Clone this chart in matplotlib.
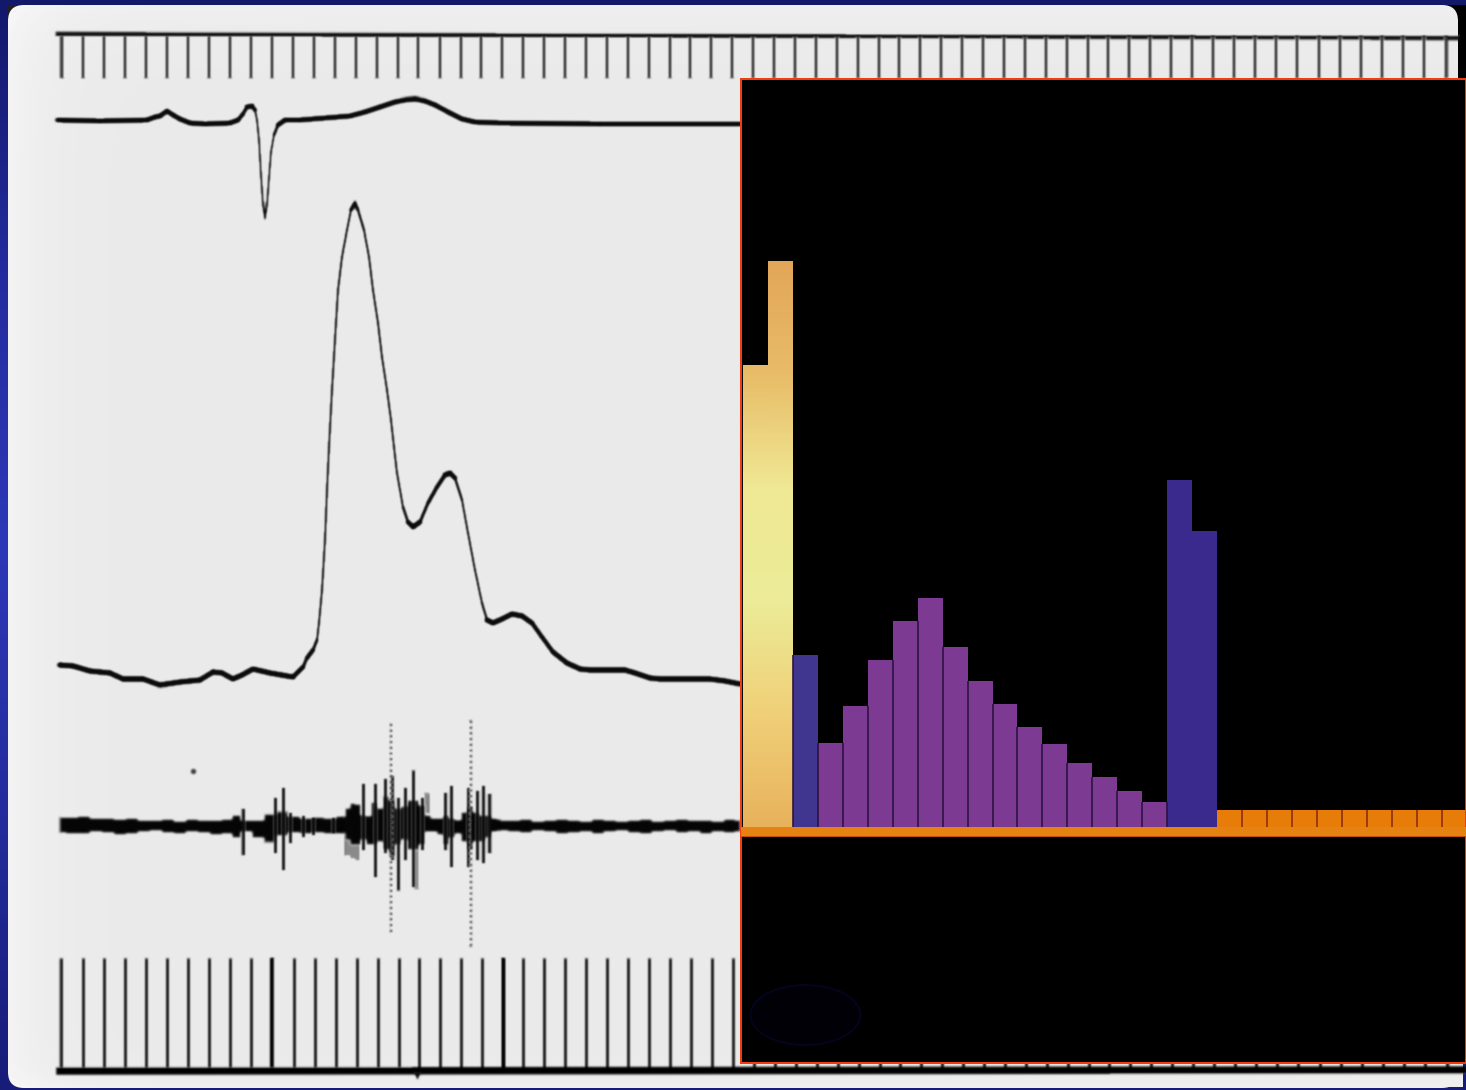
import numpy as np
import matplotlib
matplotlib.use("Agg")
import matplotlib.pyplot as plt
from matplotlib.collections import LineCollection
from matplotlib.colors import LinearSegmentedColormap
from matplotlib.patches import FancyBboxPatch, Rectangle, Ellipse

W, H = 1466, 1090
PX = 0.72  # one pixel in points at dpi 100

# --- traces (x, y in picture pixels) ---
top_ticks = [62,83,104,125,146,167,188,209,230,251,272,293,314,335,356,377,398,418,440,461,481,
             502,523,544,565,586,607,628,649,670,690,711,732,753,774,795,816,837,858,879,899,920,
             941,962,983,1004,1025,1046,1067,1088,1108,1129,1150,1171,1192,1213,1234,1255,1276,
             1297,1319,1340,1361,1382,1403,1424,1446]
bottom_ticks = [61,83,104,125,146,167,188,209,230,251,272,294,315,336,357,378,399,419,440,461,482,
                503,523,544,565,586,607,628,649,670,691,712,733,754,775,796,817,838,859,880,900,
                921,942,963,984,1005,1026,1047,1068,1089,1109,1130,1151,1172,1193,1214,1235,1256,
                1277,1298,1320,1341,1362,1383,1404,1425,1447]
bold_bottom_ticks = [272, 503]

ecg_x = [58,100,147,155,160,167,173,180,190,205,230,238,243,247,252,255,257,259,261,263,265,267,269,
         271,274,278,285,300,350,365,380,395,405,415,425,435,450,462,475,500,600,740]
ecg_y = [120,121,120,117,116,111,115,119,123,124,123,120,114,107,106,110,120,140,175,205,218,205,178,
         152,135,125,120,120,116,112,107,102,100,99,101,105,113,119,122,123,124,124]

bp_x = [60,73,90,110,123,143,160,180,200,213,222,233,242,253,270,293,298,303,307,313,317,319,322,325,327,
        329,332,336,338,342,347,351,355,358,364,369,373,378,382,387,391,394,397,403,408,413,420,428,437,
        445,450,455,462,468,475,482,487,493,502,512,522,532,542,553,567,580,590,605,625,635,650,660,680,710,725,740]
bp_y = [665,666,671,673,679,679,685,682,680,672,673,679,675,669,673,677,672,667,658,650,640,623,590,540,490,
        447,390,323,290,257,230,210,203,210,230,257,290,323,357,390,420,447,473,507,522,527,522,503,487,
        475,473,478,500,533,570,603,620,623,619,614,616,623,637,652,663,669,670,670,670,673,678,679,679,679,681,684]

base_x = [60,72,84,96,108,120,132,144,156,168,180,192,204,216,228,236,246,258,270,282,294,306,318,330,
          342,502,514,526,538,550,562,574,586,598,610,622,634,646,658,670,682,694,706,718,730,740]
base_top = [817,817,816,818,818,819,818,820,820,819,821,819,820,820,819,815,820,820,814,812,816,818,817,818,
            816,820,820,819,821,820,819,820,821,819,820,821,820,819,821,820,819,820,820,821,819,820]
base_bot = [833,834,834,832,833,835,834,832,831,833,834,832,833,835,834,838,832,838,842,836,833,834,833,834,
            834,831,832,833,831,832,834,833,832,834,832,831,833,834,832,831,833,832,834,832,833,832]

body_x = [342,348,352,358,364,368,374,380,386,392,398,404,410,416,422,428,434,440,446,452,458,464,470,476,482,488,494,500]
body_top = [817,808,803,804,815,816,802,808,797,800,808,806,800,800,805,815,818,818,815,818,820,812,806,812,815,815,818,819]
body_bot = [833,840,845,845,840,845,845,842,850,855,845,840,850,850,845,832,832,835,845,838,834,842,850,842,842,838,832,831]

emg_x = [243,275,283,290,303,313,333,363,375,385,392,398,405,413,422,445,451,468,477,483,489]
emg_top = [808,797,787,812,815,817,817,783,783,778,775,797,787,770,797,792,785,787,790,785,793]
emg_bot = [855,853,870,843,837,835,833,850,877,853,860,890,860,887,850,850,867,867,860,863,853]
emg_grey_x = [347,352,357,416,426]
emg_grey_top = [830,830,830,840,793]
emg_grey_bot = [855,858,860,888,813]
emg_dot_x = [391,470]
emg_dot_top = [723,720]
emg_dot_bot = [932,947]

# --- bar panel values ---
yellow_h = [462, 566]
blue_a_h = [172]
purple_h = [84, 121, 167, 206, 229, 180, 146, 123, 100, 83, 64, 50, 36, 25]
blue_b_h = [347, 296]
orange_h = [17, 17, 17, 17, 17, 17, 17, 17, 17, 17]


def soften(img, dpi):
    """Small separable blur, for the scanned look of the photographed record."""
    pad = 4
    a = np.pad(img, pad, mode="constant")[:, :, pad:-pad]
    k = np.array([1, 4, 6, 4, 1], float) / 16
    for axis in (0, 1):
        a = np.apply_along_axis(lambda v: np.convolve(v, k, mode="same"), axis, a)
    return a, -pad, -pad


fig = plt.figure(figsize=(W / 100, H / 100), dpi=100)
ax = fig.add_axes([0, 0, 1, 1])
ax.axis("off")

# backdrop: blue slide
bg = LinearSegmentedColormap.from_list("bg", ["#12186a", "#232c9e", "#2d38b8", "#232c9c", "#161c78"])
ax.imshow(np.linspace(0, 1, 256).reshape(-1, 1), extent=(0, W, H, 0), cmap=bg, aspect="auto", zorder=0)
ax.set_xlim(0, W)
ax.set_ylim(H, 0)

# paper, slightly lighter towards the left and top edges
ax.add_patch(Rectangle((1440, 5), 26, 80, fc="black", ec="none", zorder=1))
ax.add_patch(Rectangle((8, 5), 16, 14, fc="#202020", ec="none", zorder=1))
paper = FancyBboxPatch((18, 15), 1430, 1063, boxstyle="round,pad=10,rounding_size=16", fc="none", ec="none", zorder=2)
ax.add_patch(paper)
gx = 0.915 + 0.045 * np.exp(-np.arange(W) / 40.0)
gy = 0.025 * np.exp(-np.arange(H) / 30.0) + 0.03 * np.exp(-(H - np.arange(H)) / 12.0)
shade = np.clip(gy[:, None] + gx[None, :], 0, 1)
im = ax.imshow(shade, extent=(0, W, H, 0), cmap="gray", vmin=0, vmax=1, aspect="auto", zorder=2)
im.set_clip_path(paper)
ax.add_patch(Rectangle((1440, 1060), 23, 27, fc="#efefef", ec="none", zorder=2))
ax.set_xlim(0, W)
ax.set_ylim(H, 0)

# top timing ruler
artists = []
artists += ax.plot([58, 1458], [34, 38], color="#111111", lw=4.5 * PX, zorder=3)
artists.append(ax.vlines(top_ticks, 36, 78, color="#3c3c3c", lw=3.8 * PX, zorder=3))


def trace(x, y, thick, thin, z=4):
    x = np.asarray(x, float)
    y = np.asarray(y, float)
    pts = np.column_stack([x, y])
    segs = np.stack([pts[:-1], pts[1:]], axis=1)
    slope = np.abs(np.diff(y) / np.diff(x))
    widths = np.maximum(thin, thick / (1 + (slope * 0.55) ** 2) ** 0.5) * PX
    lc = LineCollection(segs, linewidths=widths, colors="#0a0a0a", capstyle="round", joinstyle="round", zorder=z)
    ax.add_collection(lc)
    return lc


artists.append(trace(ecg_x, ecg_y, 5.8, 2.4))
artists.append(trace(bp_x, bp_y, 6.2, 2.6))

# EMG
artists.append(ax.fill_between(base_x, base_top, base_bot, step="mid", color="#050505", lw=0, zorder=4))
artists.append(ax.fill_between(body_x, body_top, body_bot, step="mid", color="#050505", lw=0, zorder=4))
artists.append(ax.vlines(emg_x, emg_top, emg_bot, color="#111111", lw=3.4 * PX, zorder=4))
artists.append(ax.vlines(emg_grey_x, emg_grey_top, emg_grey_bot, color="#8a8a8a", lw=5 * PX, zorder=3.5))
artists.append(ax.vlines(emg_dot_x, emg_dot_top, emg_dot_bot, color="#444444", lw=2.6 * PX,
                         linestyles=(0, (1.1, 1.1)), zorder=4))
artists += ax.plot([193], [771], marker="o", ms=2.5, color="#333333", zorder=3)

# bottom timing ruler
artists.append(ax.vlines(bottom_ticks, 958, 1069, color="#181818", lw=3.4 * PX, zorder=3))
artists.append(ax.vlines(bold_bottom_ticks, 958, 1069, color="#000000", lw=3.8 * PX, zorder=3))
artists += ax.plot([60, 1466], [1071, 1070], color="#000000", lw=7.5 * PX, zorder=3)
artists += ax.plot([417], [1075], marker="v", ms=4, color="#111111", zorder=3)
for a in artists:
    a.set_agg_filter(soften)

# bar panel
pan = fig.add_axes([741 / W, (H - 1063) / H, (W - 741) / W, (1063 - 79) / H], facecolor="black", zorder=5)
x0 = (741 - 743) / 24.95
pan.set_xticks([])
pan.set_yticks([])
for s, sp in pan.spines.items():
    sp.set_color("#f23c10")
    sp.set_linewidth(2 * PX)

heights = yellow_h + blue_a_h + purple_h + blue_b_h + orange_h
xs = np.arange(len(heights))
n_y, n_a, n_p, n_b = len(yellow_h), len(blue_a_h), len(purple_h), len(blue_b_h)
colors = (["#e8c060"] * n_y + ["#40358f"] * n_a + ["#7c3a92"] * n_p + ["#3a2a8e"] * n_b
          + ["#e87c08"] * len(orange_h))
bars = pan.bar(xs, heights, width=1.0, align="edge", color=colors, linewidth=0, zorder=2)

# pale yellow glow in the first two bars
glow = LinearSegmentedColormap.from_list(
    "glow", ["#e2a658", "#e8bc68", "#f0e894", "#ecec98", "#f0d078", "#e8b25c"])
for b in bars[:n_y]:
    g = pan.imshow(np.linspace(0, 1, 256).reshape(-1, 1), extent=(0, 2, 0, 566), cmap=glow,
                   aspect="auto", zorder=3)
    g.set_clip_path(b)
pan.set_xlim(x0, x0 + (W - 741) / 24.95)
pan.set_ylim(-236, 748)

# thin dark seams between purple bars and in the orange run
inner = np.array(blue_a_h + purple_h + blue_b_h[:1])
prev = np.array(yellow_h[-1:] + blue_a_h + purple_h)
seam_x = xs[n_y: n_y + n_a + n_p + 1]
pan.vlines(seam_x, 0, np.minimum(inner, prev), color="#2a1240", lw=1.6 * PX, zorder=4)
pan.vlines(xs[-len(orange_h) + 1:], 0, orange_h[1:], color="#8a2a10", lw=1.6 * PX, zorder=4)

# baseline band
pan.axhspan(-9, 0, color="#e68212", lw=0, zorder=5)
pan.axhline(-9, color="#c2500c", lw=1 * PX, zorder=5)

# barely visible smudge in the panel
pan.add_patch(Ellipse((2.5, -188), 4.4, 60, fc="#000006", ec="#04041c", lw=1.5, zorder=1))

fig.savefig("out.png", dpi=100, facecolor="#141a6e")
